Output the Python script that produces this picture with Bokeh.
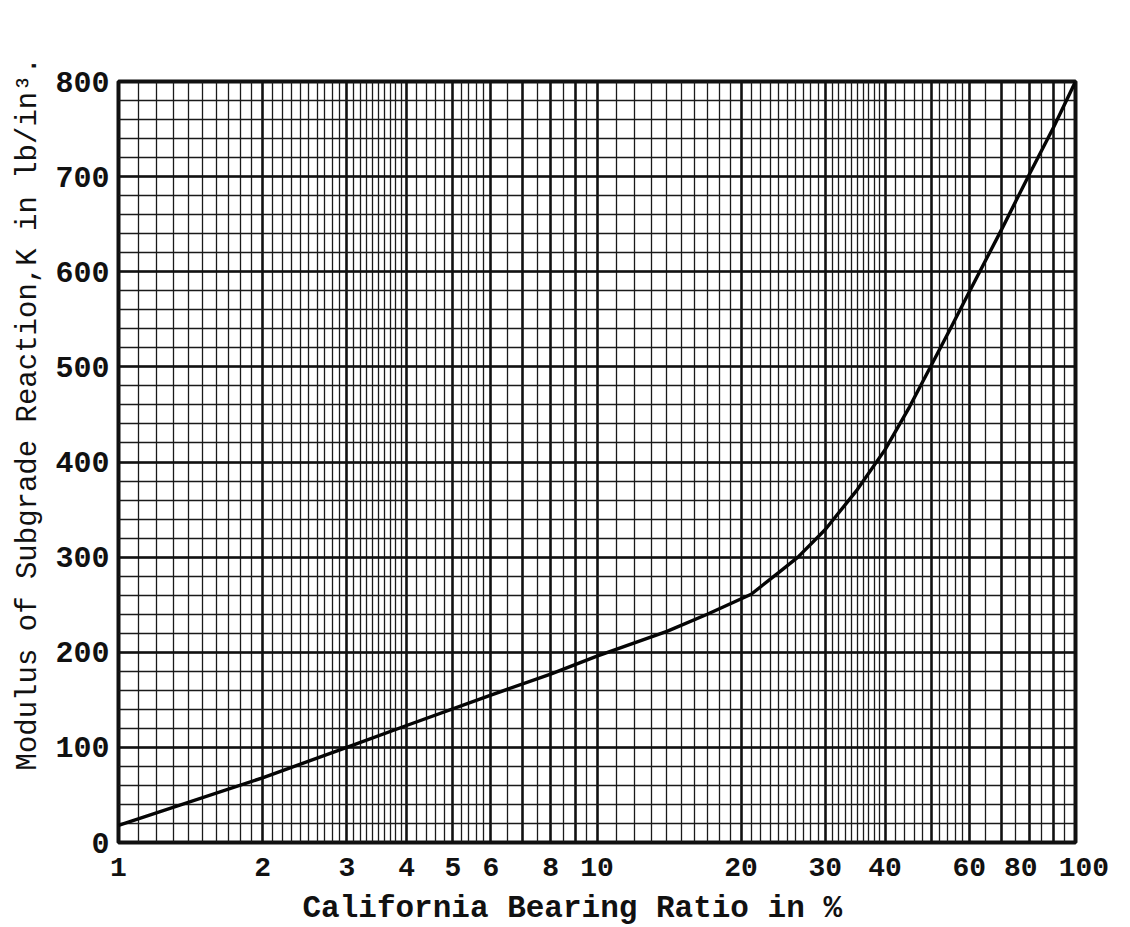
from bokeh.plotting import figure
from bokeh.models import FixedTicker, PrintfTickFormatter, Title, Range1d
from bokeh.embed import file_html
from bokeh.resources import INLINE

# ---- data ----
cbr_percent = [1, 2, 3, 4, 6, 8, 10, 14, 17, 21, 24, 26.3, 30, 35, 40, 45, 50, 55, 60, 70, 80, 90, 100]
k_value = [18, 68, 100, 123, 155, 177, 196, 222, 240, 261, 284, 300, 329, 371, 413, 458, 502, 542, 579, 644, 702, 752, 800]

x_tick_values = [1, 2, 3, 4, 5, 6, 8, 10, 20, 30, 40, 60, 80, 100]
y_tick_values = [0, 100, 200, 300, 400, 500, 600, 700, 800]
x_title = "California Bearing Ratio in %"
y_title = "Modulus of Subgrade Reaction,K in lb/in³."

FONT = "Liberation Mono"
INK = "#111111"

# ---- graph-paper grid positions (semi-log paper, 2 cycles) ----
major_x = []
minor_x = []
for d in (1, 10):
    major_x += [d * m for m in range(1, 11)]
    minor_x += [d * i / 10 for i in range(11, 40) if i % 10]
    minor_x += [d * v for v in (4.2, 4.4, 4.6, 4.8, 5.2, 5.4, 5.6, 5.8, 6.5, 7.5, 8.5, 9.5)]
major_y = list(range(0, 801, 100))
minor_y = list(range(0, 801, 20))

p = figure(width=1130, height=927, x_axis_type="log",
           x_range=Range1d(1, 100), y_range=Range1d(0, 800),
           output_backend="svg", toolbar_location=None,
           min_border_left=118, min_border_right=55,
           min_border_top=81, min_border_bottom=85)
p.background_fill_color = "white"
p.border_fill_color = "white"
p.outline_line_color = INK
p.outline_line_width = 4

p.xgrid.ticker = FixedTicker(ticks=major_x, minor_ticks=minor_x)
p.ygrid.ticker = FixedTicker(ticks=major_y, minor_ticks=minor_y)
for g in (p.xgrid, p.ygrid):
    g.grid_line_color = INK
    g.grid_line_width = 2.6
    g.grid_line_alpha = 1.0
    g.minor_grid_line_color = "#1a1a1a"
    g.minor_grid_line_width = 1.3
    g.minor_grid_line_alpha = 1.0

p.xaxis.ticker = FixedTicker(ticks=x_tick_values, minor_ticks=[])
p.yaxis.ticker = FixedTicker(ticks=y_tick_values, minor_ticks=[])
p.xaxis.formatter = PrintfTickFormatter(format="%d")
p.yaxis.formatter = PrintfTickFormatter(format="%d")
p.xaxis.major_label_overrides = {80: "80\u00a0", 100: "\u00a0100"}
for ax in (p.xaxis, p.yaxis):
    ax.axis_line_color = None
    ax.major_tick_in = 0
    ax.major_tick_out = 0
    ax.minor_tick_in = 0
    ax.minor_tick_out = 0
    ax.major_label_text_font = FONT
    ax.major_label_text_font_style = "bold"
    ax.major_label_text_color = INK
p.xaxis.major_label_text_font_size = "28px"
p.xaxis.major_label_standoff = 10
p.yaxis.major_label_text_font_size = "30px"
p.yaxis.major_label_standoff = 9

p.line(cbr_percent, k_value, line_color="#050505", line_width=3.4)

tx = Title(text=x_title, align="left", offset=184, text_font=FONT,
           text_font_size="31px", text_font_style="bold", text_color=INK, standoff=4)
p.add_layout(tx, "below")
ty = Title(text=y_title, align="left", offset=72, text_font=FONT,
           text_font_size="29px", text_font_style="normal", text_color=INK, standoff=16)
p.add_layout(ty, "left")

open("out.html", "w").write(file_html(p, INLINE))
